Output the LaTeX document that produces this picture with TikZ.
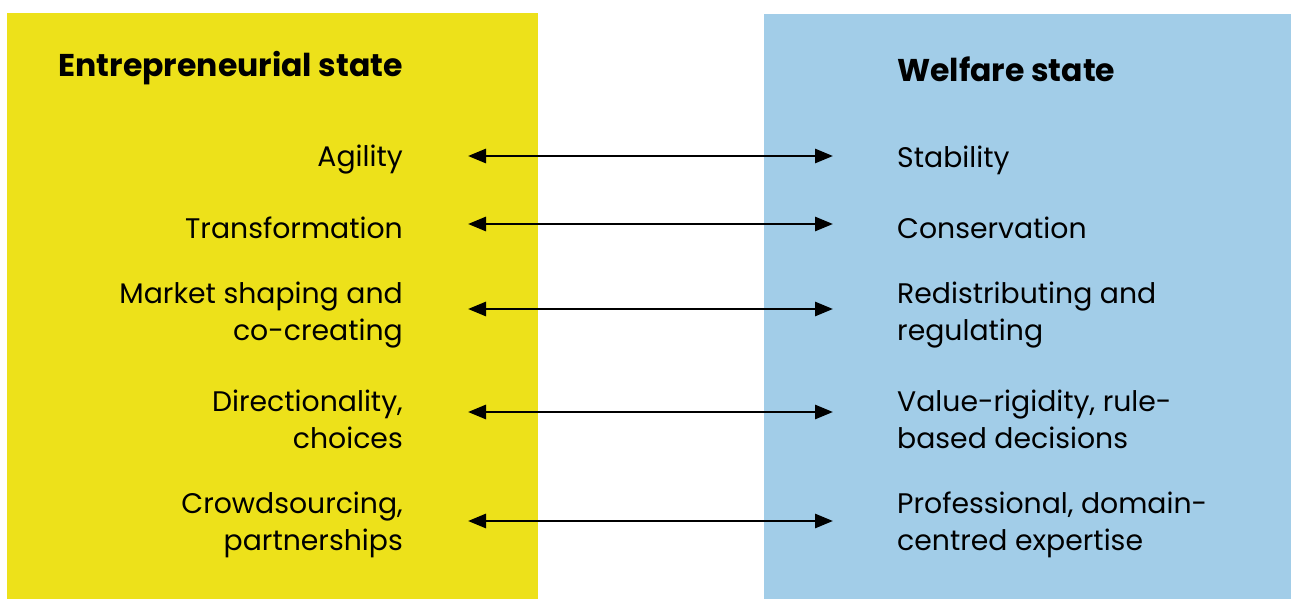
\documentclass[tikz,border=0pt]{standalone}
\usepackage{fontspec}
\setmainfont{Poppins}
\usetikzlibrary{arrows.meta}
\definecolor{entyellow}{RGB}{237,225,26}
\definecolor{welblue}{RGB}{162,205,232}
\begin{document}
\begin{tikzpicture}[x=1pt,y=-1pt,
  lefttxt/.style={anchor=east,align=right,inner sep=0pt,font=\fontsize{28.3}{37}\selectfont},
  righttxt/.style={anchor=west,align=left,inner sep=0pt,font=\fontsize{28.3}{37}\selectfont},
  heading/.style={inner sep=0pt,font=\fontsize{31.5}{34}\selectfont\bfseries},
  link/.style={line width=2.8pt,{Triangle[length=18pt,width=14pt]}-{Triangle[length=18pt,width=14pt]}}]
\useasboundingbox (0,0) rectangle (1291,599);
% the two columns
\fill[entyellow] (7,13) rectangle (538,599);
\fill[welblue] (764,14) rectangle (1291,599);
% headings
\node[heading,anchor=east] (lh) at (403,68) {Entrepreneurial state};
\node[heading,anchor=west] (rh) at (897,69) {Welfare state};
% left column
\node[lefttxt] (l1) at (403,160) {Agility};
\node[lefttxt] (l2) at (403,228) {Transformation};
\node[lefttxt] (l3) at (403,315) {Market shaping and\\co-creating};
\node[lefttxt] (l4) at (403,419) {Directionality,\\choices};
\node[lefttxt] (l5) at (403,525) {Crowdsourcing,\\partnerships};
% right column
\node[righttxt] (r1) at (897,160) {Stability};
\node[righttxt] (r2) at (897,228) {Conservation};
\node[righttxt] (r3) at (897,315) {Redistributing and\\regulating};
\node[righttxt] (r4) at (897,419) {Value-rigidity, rule-\\based decisions};
\node[righttxt] (r5) at (897,525) {Professional, domain-\\centred expertise};
% double-headed links
\coordinate (a1) at (468,156); \coordinate (b1) at (833,156);
\coordinate (a2) at (468,224); \coordinate (b2) at (833,224);
\coordinate (a3) at (468,309); \coordinate (b3) at (833,309);
\coordinate (a4) at (468,412); \coordinate (b4) at (833,412);
\coordinate (a5) at (468,521); \coordinate (b5) at (833,521);
\foreach \i in {1,...,5} {\draw[link] (a\i) -- (b\i);}
\end{tikzpicture}
\end{document}
